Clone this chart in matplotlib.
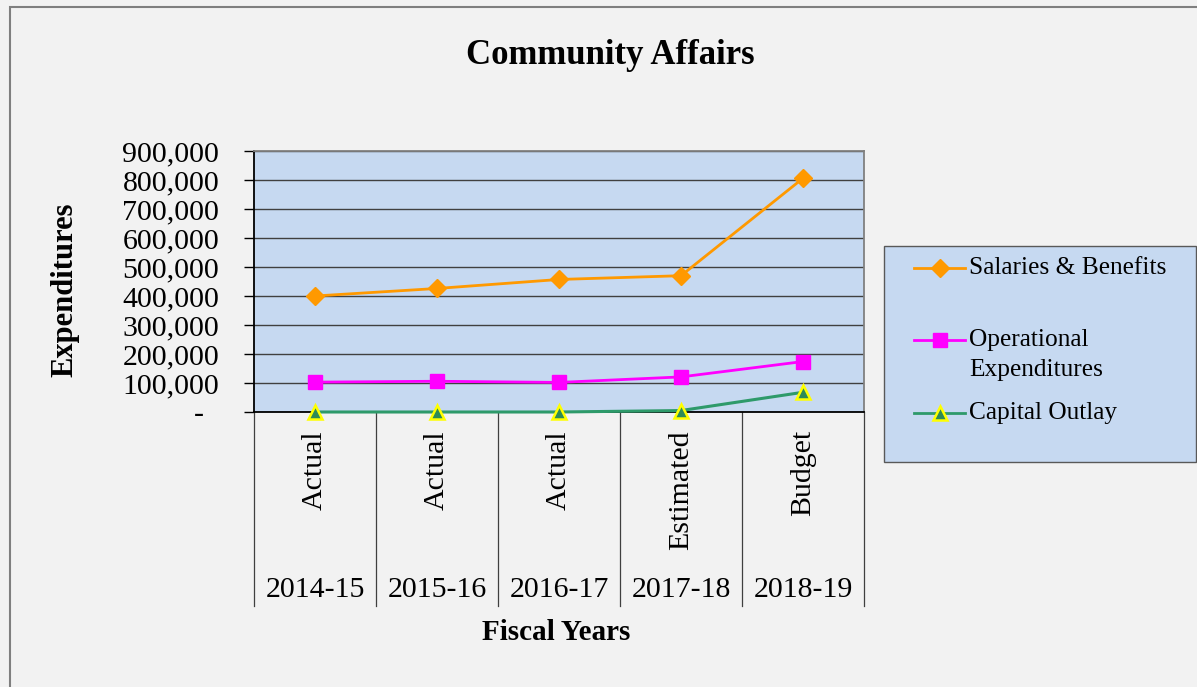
import matplotlib.pyplot as plt
from matplotlib.patches import Rectangle
from matplotlib.lines import Line2D

years = ['2014-15', '2015-16', '2016-17', '2017-18', '2018-19']
status = ['Actual', 'Actual', 'Actual', 'Estimated', 'Budget']
salaries = [400000, 426000, 457000, 470000, 806000]
operational = [103000, 106000, 102000, 121000, 174000]
capital = [0, 0, 0, 5000, 68000]

W, H = 1197, 687
def fx(x):
    return x / W
def fy(y):
    return 1 - y / H

plt.rcParams['font.family'] = ['Liberation Serif', 'DejaVu Serif']

fig = plt.figure(figsize=(W / 100, H / 100), dpi=100, facecolor='#F2F2F2')
ax = fig.add_axes([fx(254), fy(412), (864 - 254) / W, (412 - 151) / H])
ax.set_facecolor('#C6D9F1')

sal_style = dict(color='#FF9900', marker='D', ms=9)
op_style = dict(color='#FF00FF', marker='s', ms=10)
cap_style = dict(color='#2E9A6A', marker='^', ms=10.5, mfc='#2E8B57',
                 mec='#FFFF00', mew=1.8)

x = range(len(years))
ax.plot(x, salaries, lw=2, zorder=3, **sal_style)
ax.plot(x, operational, lw=2, zorder=3, **op_style)
ax.plot(x, capital, lw=2.2, zorder=4, clip_on=False, **cap_style)

ax.set_xlim(-0.5, len(years) - 0.5)
ax.set_ylim(0, 900000)
yt = list(range(0, 900001, 100000))
ax.set_yticks(yt)
ax.set_yticklabels(['-  '] + [f'{v:,}' for v in yt[1:]])
ax.tick_params(axis='y', labelsize=21.5, length=7, direction='out', pad=18, width=1)
ax.set_xticks([])
ax.yaxis.grid(True, color='#404040', lw=1)
ax.set_axisbelow(True)
for s in ['left', 'bottom']:
    ax.spines[s].set_color('black')
    ax.spines[s].set_linewidth(1.3)
for s in ['top', 'right']:
    ax.spines[s].set_color('#808080')
    ax.spines[s].set_linewidth(1.3)

# two-level category axis
tr = ax.get_xaxis_transform()
bot = (412 - 606) / 261
for i in range(len(years) + 1):
    ax.plot([i - 0.5, i - 0.5], [0, bot], transform=tr, clip_on=False,
            color='#404040', lw=0.9)
for i in x:
    ax.text(i, (412 - 430) / 261, status[i], transform=tr, rotation=90,
            ha='center', va='top', fontsize=21.5)
    ax.text(i, (412 - 590) / 261, years[i], transform=tr,
            ha='center', va='center', fontsize=21.5)

fig.text(fx(610), fy(55), 'Community Affairs', ha='center', va='center',
         fontsize=25, fontweight='bold')
fig.text(fx(65), fy(290), 'Expenditures', ha='center', va='center',
         rotation=90, fontsize=22, fontweight='bold')
fig.text(fx(556), fy(632), 'Fiscal Years', ha='center', va='center',
         fontsize=21, fontweight='bold')

# outer chart border
fig.add_artist(Rectangle((fx(10), -0.1), 1.2, fy(7) + 0.1, transform=fig.transFigure,
                         fill=False, edgecolor='#7F7F7F', lw=1.5))

# legend box
fig.add_artist(Rectangle((fx(884), fy(462)), (1196 - 884) / W, (462 - 246) / H,
                         transform=fig.transFigure, facecolor='#C6D9F1',
                         edgecolor='#595959', lw=1))
leg_items = [
    ('Salaries & Benefits', 268, sal_style),
    ('Operational\nExpenditures', 340, op_style),
    ('Capital Outlay', 413, cap_style),
]
for label, yy, style in leg_items:
    fig.add_artist(Line2D([fx(914), fx(965)], [fy(yy), fy(yy)], lw=2,
                          color=style['color'], transform=fig.transFigure))
    fig.add_artist(Line2D([fx(940)], [fy(yy)], lw=0, transform=fig.transFigure,
                          **style))
    for k, line in enumerate(label.split('\n')):
        fig.text(fx(969), fy(yy + 30 * k), line, ha='left', va='center',
                 fontsize=18.3)

fig.savefig('out.png', dpi=100, facecolor=fig.get_facecolor())
